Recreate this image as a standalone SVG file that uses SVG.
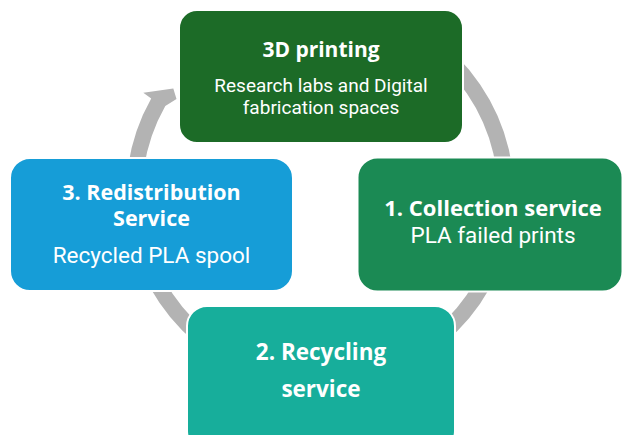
<svg xmlns="http://www.w3.org/2000/svg" width="623" height="435" viewBox="0 0 623 435">
<style>
.box{stroke:#ffffff;stroke-width:2}
.t{font-family:"Open Sans","Liberation Sans",sans-serif;fill:#ffffff;text-anchor:middle}
.b{font-weight:700}
.r{font-family:Roboto,"Liberation Sans",sans-serif;font-weight:400}
.ring{fill:#b3b3b3}
</style>
<rect width="623" height="435" fill="#ffffff"/>
<g id="connectors">
<path class="ring" d="M 445.9 68.1 L 457.2 56.8 A 194 194 0 1 1 151.2 98.5 L 143.3 92.7 L 173.3 88.5 L 176.5 99 L 165.3 106.1 A 178 178 0 1 0 445.9 68.1 Z"/>
</g>
<g id="node-3d-printing">
<rect class="box" x="179" y="10" width="284" height="133" rx="18" fill="#1c6b27"/>
<text class="t b" x="321" y="57" font-size="21">3D printing</text>
<text class="t r" x="321" y="92" font-size="19">Research labs and Digital</text>
<text class="t r" x="321" y="114" font-size="19">fabrication spaces</text>
</g>
<g id="node-redistribution">
<rect class="box" x="10" y="158" width="283" height="133" rx="20" fill="#169dd7"/>
<text class="t b" x="151.5" y="199.5" font-size="21.5">3. Redistribution</text>
<text class="t b" x="151.5" y="226" font-size="21.5">Service</text>
<text class="t r" x="151.5" y="262.5" font-size="22.5">Recycled PLA spool</text>
</g>
<g id="node-collection">
<rect class="box" x="357.5" y="157.5" width="265" height="134" rx="20" fill="#1b8a54"/>
<text class="t b" x="493" y="215.5" font-size="22">1. Collection service</text>
<text class="t r" x="493" y="242.5" font-size="22.5">PLA failed prints</text>
</g>
<g id="node-recycling">
<rect class="box" x="187" y="306" width="268" height="145" rx="20" fill="#17ae9b"/>
<text class="t b" x="321" y="360" font-size="22.5">2. Recycling</text>
<text class="t b" x="321" y="397" font-size="22.5">service</text>
</g>
</svg>
